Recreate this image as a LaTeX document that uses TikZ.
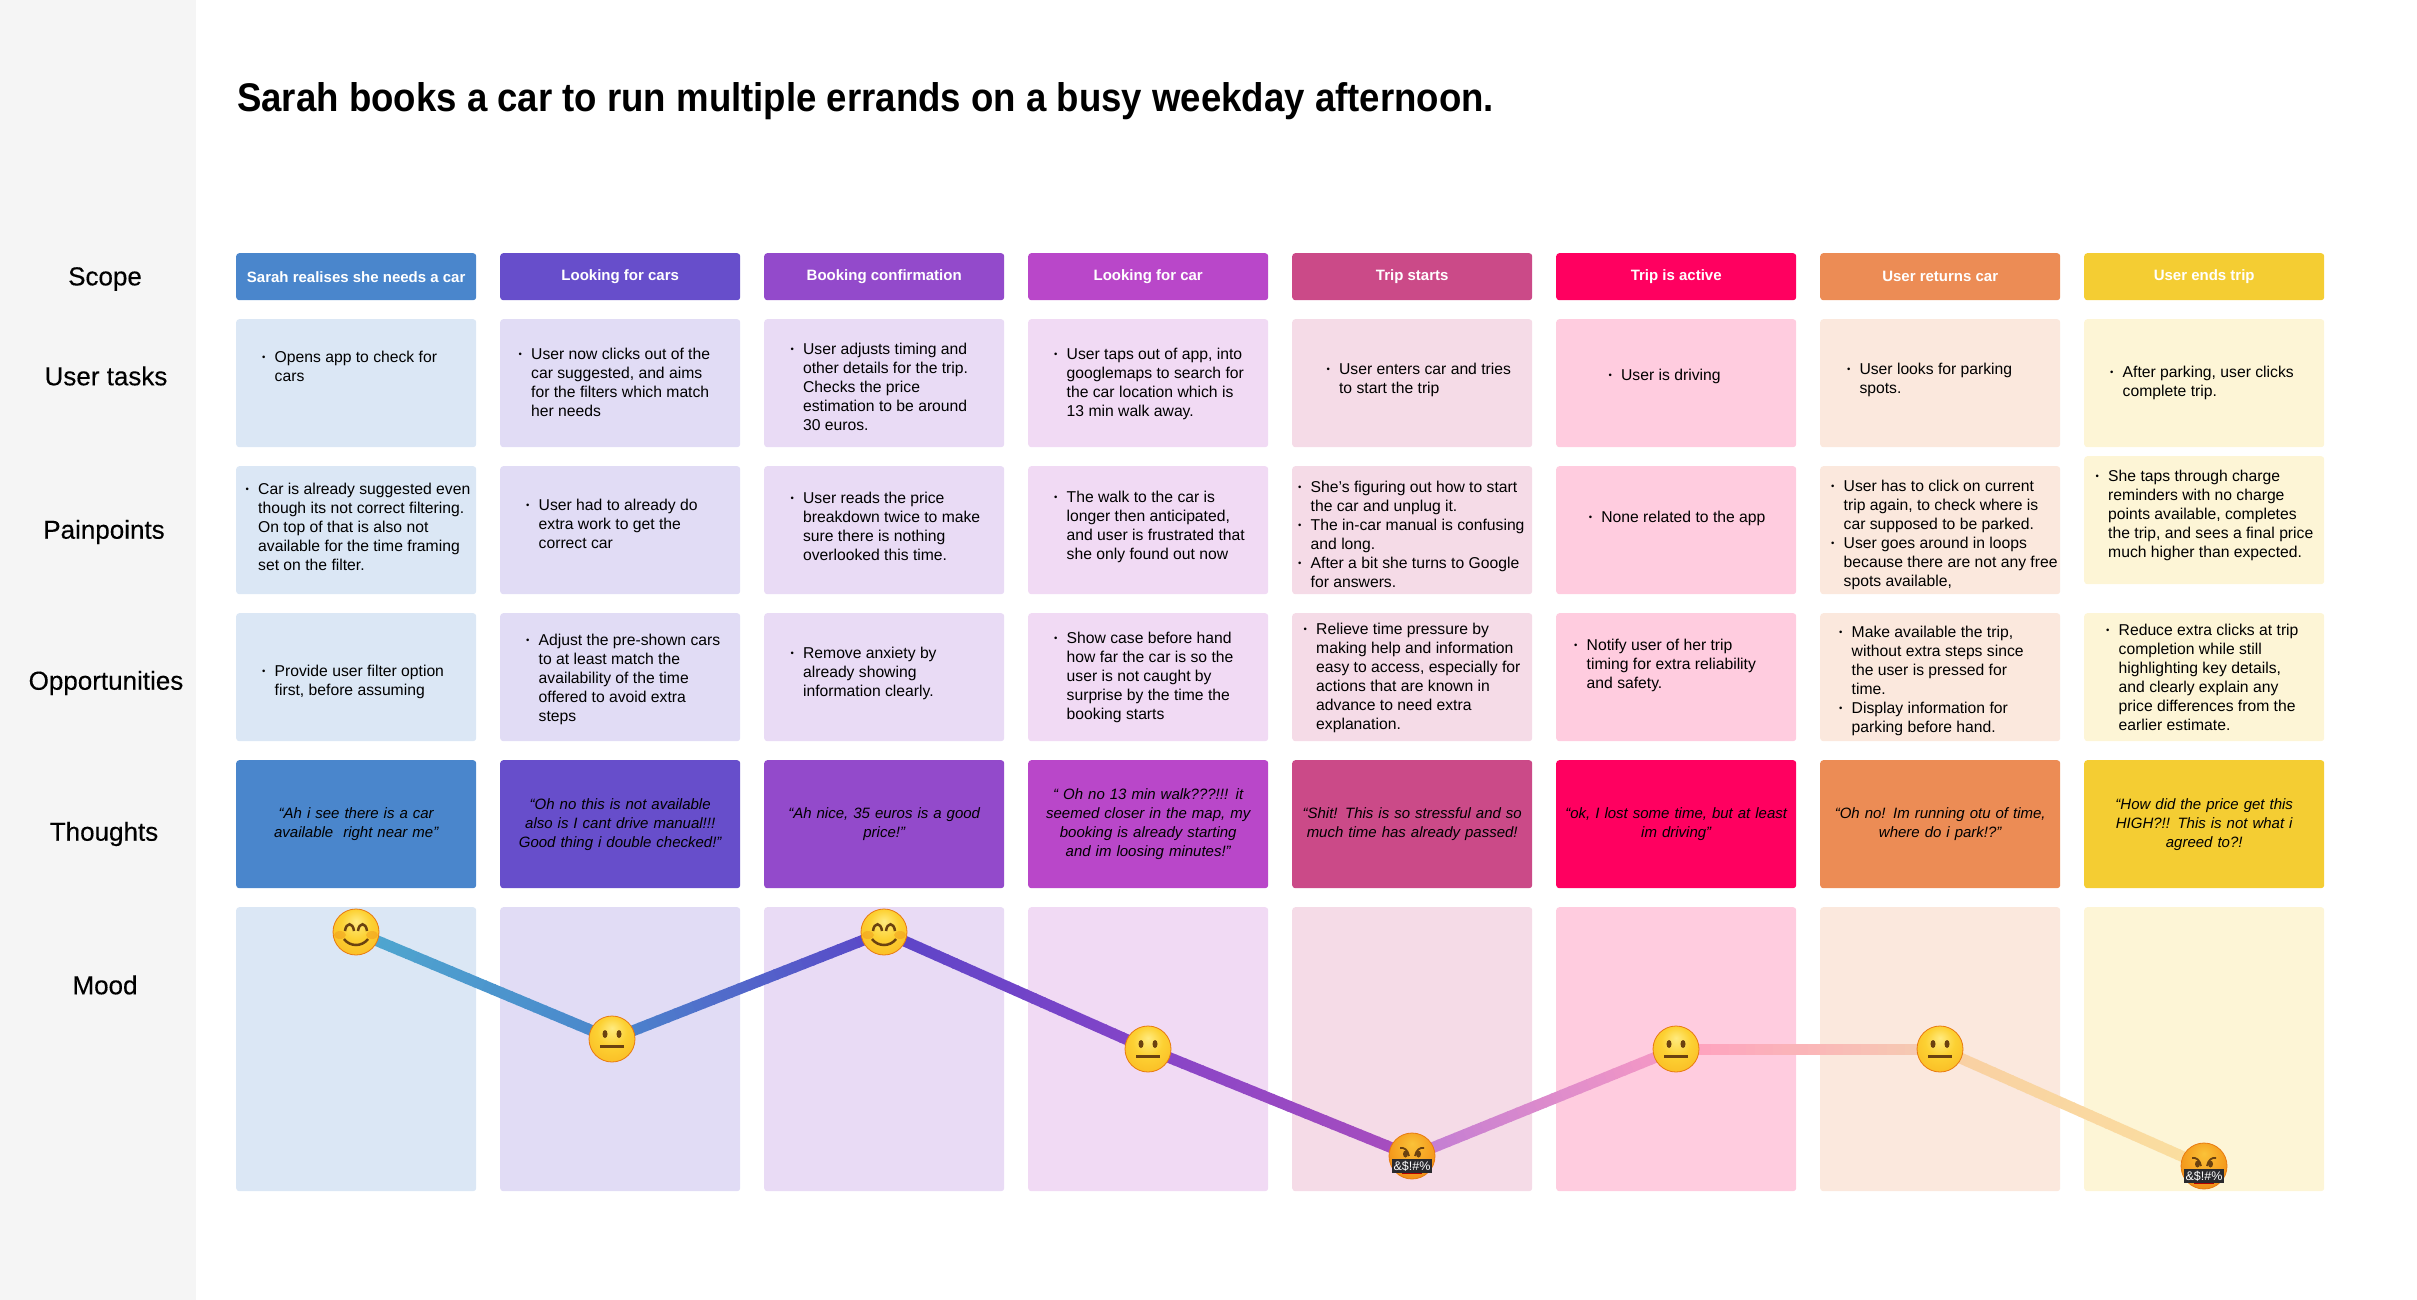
\documentclass[tikz,border=0pt]{standalone}
\usepackage{fontspec}
\usepackage{xcolor}
\usepackage{tikz}
\usetikzlibrary{calc,backgrounds}
\setmainfont{Liberation Sans}
\newfontface\titleface[FakeStretch=0.915]{Liberation Sans Bold}
\newfontface\labelface[FakeBold=0.25]{Liberation Sans}
\definecolor{stageblue}{RGB}{74,134,204}
\definecolor{stageindigo}{RGB}{103,78,203}
\definecolor{stagepurple}{RGB}{147,74,203}
\definecolor{stagemagenta}{RGB}{185,71,201}
\definecolor{stagerose}{RGB}{203,74,136}
\definecolor{stagehot}{RGB}{255,0,96}
\definecolor{stageorange}{RGB}{236,140,85}
\definecolor{stageyellow}{RGB}{244,205,51}
\definecolor{sidegray}{RGB}{245,245,245}
\definecolor{linesky}{RGB}{79,168,207}
\definecolor{lineindigo}{RGB}{91,69,200}
\definecolor{lineviolet}{RGB}{134,68,200}
\definecolor{lineplum}{RGB}{169,78,190}
\definecolor{linelilac}{RGB}{192,124,212}
\definecolor{linepink}{RGB}{247,154,196}
\definecolor{lineblush}{RGB}{255,159,192}
\definecolor{linesand}{RGB}{245,205,176}
\definecolor{linepeach}{RGB}{249,207,163}
\definecolor{linecream}{RGB}{250,223,159}
\definecolor{facebrown}{RGB}{107,66,16}
\definecolor{faceedge}{RGB}{232,122,16}
\definecolor{gagblack}{RGB}{42,42,46}
\pgfdeclareradialshading{calmball}{\pgfpoint{0bp}{12bp}}{rgb(0bp)=(1,0.92,0.5); rgb(16bp)=(0.99,0.82,0.2); rgb(36bp)=(0.98,0.72,0.13); rgb(50bp)=(0.94,0.55,0.08)}
\pgfdeclareradialshading{angryball}{\pgfpoint{0bp}{14bp}}{rgb(0bp)=(0.98,0.76,0.22); rgb(22bp)=(0.96,0.62,0.12); rgb(50bp)=(0.88,0.42,0.04)}
\newcommand{\notefont}{\fontsize{15.7}{19}\selectfont}
\newcommand{\headfont}{\fontsize{15}{19}\selectfont\bfseries}
\newcommand{\thoughtfont}{\fontsize{15}{19}\selectfont\itshape}
\newcommand{\labelfont}{\fontsize{26}{30}\selectfont\labelface}
\newcommand{\dotmark}{\raisebox{2pt}{\fontsize{9.5}{9.5}\selectfont\textbullet}}
\newenvironment{dotlist}{\begin{tabular}[t]{@{}p{12.5pt}@{}l@{}}}{\end{tabular}}
\newcommand{\moodline}[4]{%
  \foreach \seg in {0,...,29} {
    \pgfmathsetmacro{\sega}{\seg/30}
    \pgfmathsetmacro{\segb}{(\seg+1.15)/30}
    \pgfmathsetmacro{\segmix}{100-(\seg+0.5)*100/30}
    \draw[color={#3!\segmix!#4}, line width=11pt] ($(#1)!\sega!(#2)$) -- ($(#1)!\segb!(#2)$);
  }}
\tikzset{
  stagehead/.style={rounded corners=3pt, anchor=north west, minimum width=240pt, minimum height=47pt, inner sep=0pt, text=white, font=\headfont},
  stagecard/.style={rounded corners=3pt, anchor=north west, minimum width=240pt, minimum height=128pt, inner sep=0pt},
  thoughtcard/.style={stagecard, text width=240pt, align=center, font=\thoughtfont},
  moodcard/.style={stagecard, minimum height=284pt},
  bulletnote/.style={anchor=base west, inner sep=0pt, font=\notefont},
  rowlabel/.style={inner sep=0pt, font=\labelfont},
  gagbar/.style={fill=gagblack, text=white, inner xsep=1.5pt, inner ysep=1.5pt, font=\fontsize{12.5}{13}\selectfont},
  facebase/.style={circle, minimum size=46pt, inner sep=0pt, draw=faceedge, line width=0.8pt},
  smileface/.style={facebase, shading=calmball, path picture={
    \begin{scope}[shift={(path picture bounding box.center)}]
      \fill[faceedge, opacity=0.3] (-16,3) ellipse [x radius=6pt, y radius=4pt];
      \fill[faceedge, opacity=0.3] (16,3) ellipse [x radius=6pt, y radius=4pt];
      \draw[facebrown, line width=2.5pt] (-11,-1) .. controls (-10,-10) and (-3,-10) .. (-2,-1);
      \draw[facebrown, line width=2.5pt] (2,-1) .. controls (3,-10) and (10,-10) .. (11,-1);
      \draw[facebrown, line width=2.5pt] (-12,7) .. controls (-6,15) and (6,15) .. (12,7);
    \end{scope}}},
  neutralface/.style={facebase, shading=calmball, path picture={
    \begin{scope}[shift={(path picture bounding box.center)}]
      \fill[facebrown] (-7,-5) ellipse [x radius=2.5pt, y radius=4pt];
      \fill[facebrown] (7,-5) ellipse [x radius=2.5pt, y radius=4pt];
      \draw[facebrown, line width=3pt] (-12,7.5) -- (12,7.5);
    \end{scope}}},
  angryface/.style={facebase, shading=angryball, path picture={
    \begin{scope}[shift={(path picture bounding box.center)}]
      \draw[facebrown, line width=1.8pt] (-12,-8) .. controls (-8,-9) and (-4,-6) .. (-3,0);
      \draw[facebrown, line width=1.8pt] (12,-8) .. controls (8,-9) and (4,-6) .. (3,0);
      \fill[facebrown] (-6.5,-2) ellipse [x radius=2.5pt, y radius=3.5pt];
      \fill[facebrown] (6.5,-2) ellipse [x radius=2.5pt, y radius=3.5pt];
      \fill[red!70!black] (-10,16) rectangle (10,18);
    \end{scope}}},
}
\begin{document}
\begin{tikzpicture}[x=1pt, y=-1pt]
  \useasboundingbox (0,0) rectangle (2417,1300);
  \node[anchor=north west, minimum width=196pt, minimum height=1300pt, inner sep=0pt, fill=sidegray] (sidebar) at (0,0) {};
  \node[anchor=base west, inner sep=0pt, font=\fontsize{40}{46}\selectfont\titleface] (title) at (237,112) {Sarah books a car to run multiple errands on a busy weekday afternoon.};
  \node[rowlabel] (scopelabel) at (105,279) {Scope};
  \node[rowlabel] (tasklabel) at (106,376) {User tasks};
  \node[rowlabel] (painlabel) at (104,532) {Painpoints};
  \node[rowlabel] (opplabel) at (106,683) {Opportunities};
  \node[rowlabel] (thoughtlabel) at (104,834) {Thoughts};
  \node[rowlabel] (moodlabel) at (105,985) {Mood};
  \node[stagehead, fill=stageblue] (scope1) at (236,253) {Sarah realises she needs a car};
  \node[stagehead, fill=stageindigo] (scope2) at (500,253) {Looking for cars};
  \node[stagehead, fill=stagepurple] (scope3) at (764,253) {Booking confirmation};
  \node[stagehead, fill=stagemagenta] (scope4) at (1028,253) {Looking for car};
  \node[stagehead, fill=stagerose] (scope5) at (1292,253) {Trip starts};
  \node[stagehead, fill=stagehot] (scope6) at (1556,253) {Trip is active};
  \node[stagehead, fill=stageorange] (scope7) at (1820,253) {User returns car};
  \node[stagehead, fill=stageyellow] (scope8) at (2084,253) {User ends trip};
  \node[stagecard, fill=stageblue!20] (task1) at (236,319) {};
  \node[stagecard, fill=stageindigo!20] (task2) at (500,319) {};
  \node[stagecard, fill=stagepurple!20] (task3) at (764,319) {};
  \node[stagecard, fill=stagemagenta!20] (task4) at (1028,319) {};
  \node[stagecard, fill=stagerose!20] (task5) at (1292,319) {};
  \node[stagecard, fill=stagehot!20] (task6) at (1556,319) {};
  \node[stagecard, fill=stageorange!20] (task7) at (1820,319) {};
  \node[stagecard, fill=stageyellow!20] (task8) at (2084,319) {};
  \node[bulletnote] (tasknote1) at (262,362.6) {\begin{dotlist}\dotmark & Opens app to check for\\ & cars\end{dotlist}};
  \node[bulletnote] (tasknote2) at (518.5,359.6) {\begin{dotlist}\dotmark & User now clicks out of the\\ & car suggested, and aims\\ & for the filters which match\\ & her needs\end{dotlist}};
  \node[bulletnote] (tasknote3) at (790.4,354.3) {\begin{dotlist}\dotmark & User adjusts timing and\\ & other details for the trip.\\ & Checks the price\\ & estimation to be around\\ & 30 euros.\end{dotlist}};
  \node[bulletnote] (tasknote4) at (1054,359.6) {\begin{dotlist}\dotmark & User taps out of app, into\\ & googlemaps to search for\\ & the car location which is\\ & 13 min walk away.\end{dotlist}};
  \node[bulletnote] (tasknote5) at (1326.4,374.6) {\begin{dotlist}\dotmark & User enters car and tries\\ & to start the trip\end{dotlist}};
  \node[bulletnote] (tasknote6) at (1608.4,380.6) {\begin{dotlist}\dotmark & User is driving\end{dotlist}};
  \node[bulletnote] (tasknote7) at (1846.8,374) {\begin{dotlist}\dotmark & User looks for parking\\ & spots.\end{dotlist}};
  \node[bulletnote] (tasknote8) at (2110,377.6) {\begin{dotlist}\dotmark & After parking, user clicks\\ & complete trip.\end{dotlist}};
  \node[stagecard, fill=stageblue!20] (pain1) at (236,466) {};
  \node[stagecard, fill=stageindigo!20] (pain2) at (500,466) {};
  \node[stagecard, fill=stagepurple!20] (pain3) at (764,466) {};
  \node[stagecard, fill=stagemagenta!20] (pain4) at (1028,466) {};
  \node[stagecard, fill=stagerose!20] (pain5) at (1292,466) {};
  \node[stagecard, fill=stagehot!20] (pain6) at (1556,466) {};
  \node[stagecard, fill=stageorange!20] (pain7) at (1820,466) {};
  \node[stagecard, fill=stageyellow!20] (pain8) at (2084,456) {};
  \node[bulletnote] (painnote1) at (245.5,494.6) {\begin{dotlist}\dotmark & Car is already suggested even\\ & though its not correct filtering.\\ & On top of that is also not\\ & available for the time framing\\ & set on the filter.\end{dotlist}};
  \node[bulletnote] (painnote2) at (526,510.6) {\begin{dotlist}\dotmark & User had to already do\\ & extra work to get the\\ & correct car\end{dotlist}};
  \node[bulletnote] (painnote3) at (790.4,503.6) {\begin{dotlist}\dotmark & User reads the price\\ & breakdown twice to make\\ & sure there is nothing\\ & overlooked this time.\end{dotlist}};
  \node[bulletnote] (painnote4) at (1054,502.6) {\begin{dotlist}\dotmark & The walk to the car is\\ & longer then anticipated,\\ & and user is frustrated that\\ & she only found out now\end{dotlist}};
  \node[bulletnote] (painnote5) at (1298,492) {\begin{dotlist}\dotmark & She’s figuring out how to start\\ & the car and unplug it.\\ \dotmark & The in-car manual is confusing\\ & and long.\\ \dotmark & After a bit she turns to Google\\ & for answers.\end{dotlist}};
  \node[bulletnote] (painnote6) at (1588.6,522.6) {\begin{dotlist}\dotmark & None related to the app\end{dotlist}};
  \node[bulletnote] (painnote7) at (1831,491.6) {\begin{dotlist}\dotmark & User has to click on current\\ & trip again, to check where is\\ & car supposed to be parked.\\ \dotmark & User goes around in loops\\ & because there are not any free\\ & spots available,\end{dotlist}};
  \node[bulletnote] (painnote8) at (2095.5,481) {\begin{dotlist}\dotmark & She taps through charge\\ & reminders with no charge\\ & points available, completes\\ & the trip, and sees a final price\\ & much higher than expected.\end{dotlist}};
  \node[stagecard, fill=stageblue!20] (opp1) at (236,613) {};
  \node[stagecard, fill=stageindigo!20] (opp2) at (500,613) {};
  \node[stagecard, fill=stagepurple!20] (opp3) at (764,613) {};
  \node[stagecard, fill=stagemagenta!20] (opp4) at (1028,613) {};
  \node[stagecard, fill=stagerose!20] (opp5) at (1292,613) {};
  \node[stagecard, fill=stagehot!20] (opp6) at (1556,613) {};
  \node[stagecard, fill=stageorange!20] (opp7) at (1820,613) {};
  \node[stagecard, fill=stageyellow!20] (opp8) at (2084,613) {};
  \node[bulletnote] (oppnote1) at (262,676.6) {\begin{dotlist}\dotmark & Provide user filter option\\ & first, before assuming\end{dotlist}};
  \node[bulletnote] (oppnote2) at (526,645.6) {\begin{dotlist}\dotmark & Adjust the pre-shown cars\\ & to at least match the\\ & availability of the time\\ & offered to avoid extra\\ & steps\end{dotlist}};
  \node[bulletnote] (oppnote3) at (790.4,658.6) {\begin{dotlist}\dotmark & Remove anxiety by\\ & already showing\\ & information clearly.\end{dotlist}};
  \node[bulletnote] (oppnote4) at (1054,643.3) {\begin{dotlist}\dotmark & Show case before hand\\ & how far the car is so the\\ & user is not caught by\\ & surprise by the time the\\ & booking starts\end{dotlist}};
  \node[bulletnote] (oppnote5) at (1303.5,634.6) {\begin{dotlist}\dotmark & Relieve time pressure by\\ & making help and information\\ & easy to access, especially for\\ & actions that are known in\\ & advance to need extra\\ & explanation.\end{dotlist}};
  \node[bulletnote] (oppnote6) at (1574,650.6) {\begin{dotlist}\dotmark & Notify user of her trip\\ & timing for extra reliability\\ & and safety.\end{dotlist}};
  \node[bulletnote] (oppnote7) at (1839,637.6) {\begin{dotlist}\dotmark & Make available the trip,\\ & without extra steps since\\ & the user is pressed for\\ & time.\\ \dotmark & Display information for\\ & parking before hand.\end{dotlist}};
  \node[bulletnote] (oppnote8) at (2106,635) {\begin{dotlist}\dotmark & Reduce extra clicks at trip\\ & completion while still\\ & highlighting key details,\\ & and clearly explain any\\ & price differences from the\\ & earlier estimate.\end{dotlist}};
  \node[thoughtcard, fill=stageblue] (thought1) at (236,760) {“Ah i see there is a car\\available\ \ right near me”};
  \node[thoughtcard, fill=stageindigo] (thought2) at (500,760) {“Oh no this is not available\\also is I cant drive manual!!!\\Good thing i double checked!”};
  \node[thoughtcard, fill=stagepurple] (thought3) at (764,760) {“Ah nice, 35 euros is a good\\price!”};
  \node[thoughtcard, fill=stagemagenta] (thought4) at (1028,760) {“ Oh no 13 min walk???!!! it\\seemed closer in the map, my\\booking is already starting\\and im loosing minutes!”};
  \node[thoughtcard, fill=stagerose] (thought5) at (1292,760) {“Shit! This is so stressful and so\\much time has already passed!};
  \node[thoughtcard, fill=stagehot] (thought6) at (1556,760) {“ok, I lost some time, but at least\\im driving”};
  \node[thoughtcard, fill=stageorange] (thought7) at (1820,760) {“Oh no! Im running otu of time,\\where do i park!?”};
  \node[thoughtcard, fill=stageyellow] (thought8) at (2084,760) {“How did the price get this\\HIGH?!! This is not what i\\agreed to?!};
  \node[smileface] (face1) at (356,932) {};
  \node[neutralface] (face2) at (612,1039) {};
  \node[smileface] (face3) at (884,932) {};
  \node[neutralface] (face4) at (1148,1049) {};
  \node[angryface] (face5) at (1412,1156) {};
  \node[gagbar] (gag5) at (1412,1166) {\&\$!\#\%};
  \node[neutralface] (face6) at (1676,1049) {};
  \node[neutralface] (face7) at (1940,1049) {};
  \node[angryface] (face8) at (2204,1166) {};
  \node[gagbar] (gag8) at (2204,1176) {\&\$!\#\%};
  \begin{scope}[on background layer]
    \node[moodcard, fill=stageblue!20] (mood1) at (236,907) {};
    \node[moodcard, fill=stageindigo!20] (mood2) at (500,907) {};
    \node[moodcard, fill=stagepurple!20] (mood3) at (764,907) {};
    \node[moodcard, fill=stagemagenta!20] (mood4) at (1028,907) {};
    \node[moodcard, fill=stagerose!20] (mood5) at (1292,907) {};
    \node[moodcard, fill=stagehot!20] (mood6) at (1556,907) {};
    \node[moodcard, fill=stageorange!20] (mood7) at (1820,907) {};
    \node[moodcard, fill=stageyellow!20] (mood8) at (2084,907) {};
    \moodline{face1}{face2}{linesky}{stageblue}
    \moodline{face2}{face3}{stageblue}{lineindigo}
    \moodline{face3}{face4}{lineindigo}{lineviolet}
    \moodline{face4}{face5}{lineviolet}{lineplum}
    \moodline{face5}{face6}{linelilac}{linepink}
    \moodline{face6}{face7}{lineblush}{linesand}
    \moodline{face7}{face8}{linepeach}{linecream}
  \end{scope}
\end{tikzpicture}
\end{document}
